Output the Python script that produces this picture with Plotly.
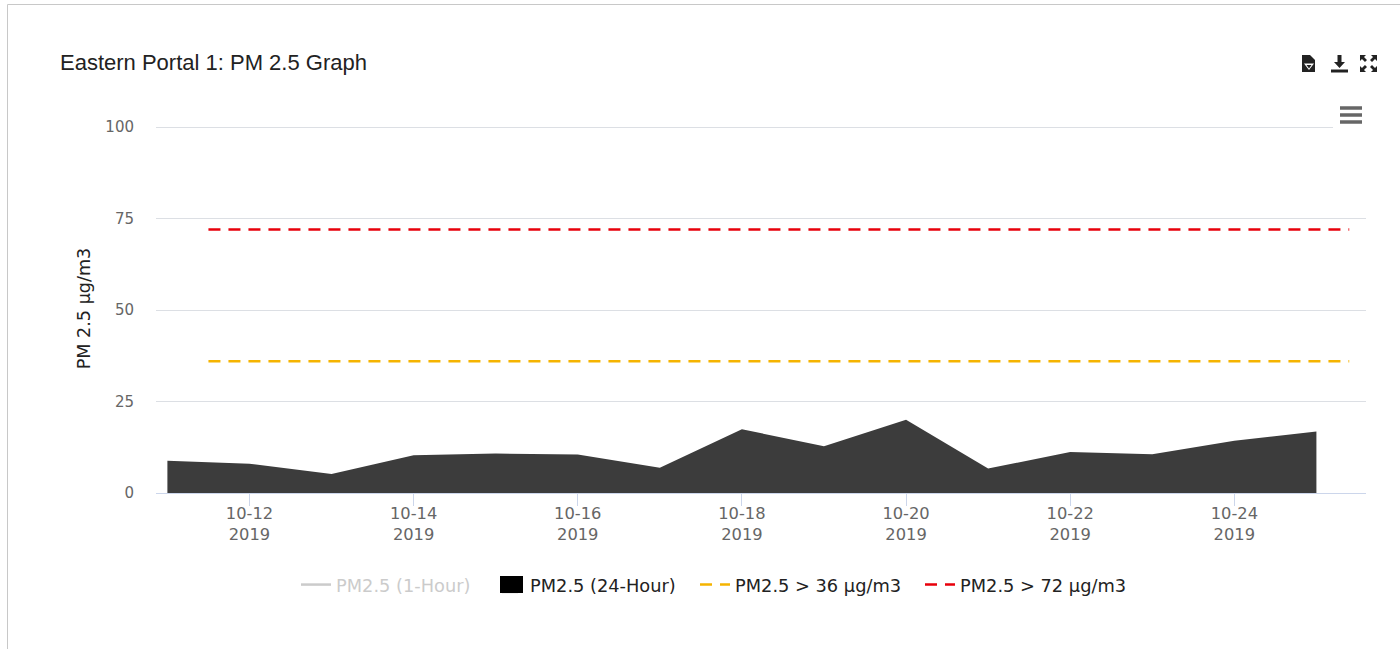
import plotly.graph_objects as go

dates = ["2019-10-%02d" % d for d in range(11, 26)]
pm24 = [8.8, 8.0, 5.2, 10.3, 10.8, 10.5, 6.9, 17.4, 12.8, 20.0, 6.7, 11.2, 10.6, 14.3, 16.8]
limit_dates = ["2019-10-11 12:00", "2019-10-25 09:36"]
limit36 = [36, 36]
limit72 = [72, 72]
tick_dates = ["2019-10-12", "2019-10-14", "2019-10-16", "2019-10-18", "2019-10-20", "2019-10-22", "2019-10-24"]
tick_text = ["10-12<br>2019", "10-14<br>2019", "10-16<br>2019", "10-18<br>2019", "10-20<br>2019", "10-22<br>2019", "10-24<br>2019"]
y_ticks = [0, 25, 50, 75, 100]

W, H = 1400, 649
L, R, T, B = 156, 1366, 124, 493
FONT = "DejaVu Sans"

def px(x): return (x - L) / (R - L)
def py(y): return (B - y) / (B - T)
def path(points):
    return "M" + " L".join(f"{px(x):.5f},{py(y):.5f}" for x, y in points) + " Z"

fig = go.Figure()
fig.add_trace(go.Scatter(x=dates[:1], y=[None], name="PM2.5 (1-Hour)", mode="lines", visible="legendonly",
                         line=dict(color="#999999", width=2.5), legend="legend"))
fig.add_trace(go.Scatter(x=dates, y=pm24, mode="lines", fill="tozeroy", showlegend=False,
                         line=dict(color="#3c3c3c", width=0), fillcolor="#3c3c3c"))
fig.add_trace(go.Scatter(x=dates[:1], y=[None], name="PM2.5 (24-Hour)", mode="markers", legend="legend2",
                         marker=dict(symbol="square", size=16, color="#000000", line=dict(color="#000000", width=1))))
fig.add_trace(go.Scatter(x=limit_dates, y=limit36, name="PM2.5 > 36 µg/m3", mode="lines", legend="legend3",
                         line=dict(color="#f5b400", width=2.6, dash="12px,8px")))
fig.add_trace(go.Scatter(x=limit_dates, y=limit72, name="PM2.5 > 72 µg/m3", mode="lines", legend="legend4",
                         line=dict(color="#e8000b", width=2.6, dash="12px,8px")))

def frame(points, fill="#222222"):
    return dict(type="path", xref="paper", yref="paper", path=path(points), fillcolor=fill, line=dict(width=0), layer="above")

shapes = [
    dict(type="line", xref="paper", yref="paper", x0=px(7.5), x1=px(7.5), y0=py(649), y1=py(4.5), line=dict(color="#c8c8c8", width=1)),
    dict(type="line", xref="paper", yref="paper", x0=px(7.5), x1=px(1400), y0=py(4.5), y1=py(4.5), line=dict(color="#c8c8c8", width=1)),
    dict(type="rect", xref="paper", yref="paper", x0=px(1333), x1=px(1367), y0=py(100), y1=py(130), fillcolor="white", line=dict(width=0), layer="above"),
    frame([(500, 576), (523, 576), (523, 593), (500, 593)], "#000000"),
]
for y0 in (108, 115, 122):
    shapes.append(dict(type="line", xref="paper", yref="paper", x0=px(1340), x1=px(1362), y0=py(y0), y1=py(y0),
                       line=dict(color="#666666", width=3.5), layer="above"))
# file-download icon
shapes.append(frame([(1302, 55), (1310, 55), (1315, 60), (1315, 72), (1302, 72)]))
shapes.append(frame([(1304, 63.5), (1314, 63.5), (1309, 70)], "#ffffff"))
shapes.append(frame([(1306.5, 65), (1311.5, 65), (1309, 68.5)]))
# download icon
shapes.append(frame([(1337.5, 55), (1341.5, 55), (1341.5, 62), (1345, 62), (1339.5, 68), (1334, 62), (1337.5, 62)]))
shapes.append(frame([(1331, 69.5), (1348, 69.5), (1348, 72.5), (1331, 72.5)]))
# fullscreen icon
for cx, cy, sx, sy in ((1360, 55, 1, 1), (1377, 55, -1, 1), (1360, 72, 1, -1), (1377, 72, -1, -1)):
    shapes.append(frame([(cx, cy), (cx + 6 * sx, cy), (cx + 4 * sx, cy + 2 * sy), (cx + 7 * sx, cy + 5 * sy),
                         (cx + 5 * sx, cy + 7 * sy), (cx + 2 * sx, cy + 4 * sy), (cx, cy + 6 * sy)]))

annotations = [
    dict(text="Eastern Portal 1: PM 2.5 Graph", xref="paper", yref="paper", x=px(58), y=py(62.5), xanchor="left", yanchor="middle",
         showarrow=False, font=dict(family="Liberation Sans", size=22, color="#222222")),
]

def legend_at(x, color="#222222"):
    return dict(orientation="h", xref="container", yref="container", x=(x - 40) / W, y=1 - 585 / H, xanchor="left", yanchor="middle",
                font=dict(family=FONT, size=17.8, color=color), itemwidth=30, bgcolor="rgba(0,0,0,0)")

fig.update_layout(
    width=W, height=H, autosize=False,
    margin=dict(l=L, r=W - R, t=T, b=H - B),
    paper_bgcolor="white", plot_bgcolor="white",
    shapes=shapes, annotations=annotations, hovermode=False,
    font=dict(family=FONT, size=15, color="#666666"),
    showlegend=True,
    legend=legend_at(336, "#999999"), legend2=legend_at(530), legend3=legend_at(735), legend4=legend_at(960),
    xaxis=dict(type="date", range=["2019-10-10 20:40", "2019-10-25 14:30"], tickvals=tick_dates, ticktext=tick_text,
               tickangle=0, ticks="outside", ticklen=12, tickcolor="#ccd6eb", tickwidth=1,
               showline=True, linecolor="#ccd6eb", linewidth=1, showgrid=False, zeroline=False, ticklabelstandoff=-7,
               tickfont=dict(family=FONT, size=16.3, color="#666666"), automargin=False),
    yaxis=dict(range=[0, 100.82], tickvals=y_ticks, showgrid=True, gridcolor="#dcdfe4", gridwidth=1.4, zeroline=False,
               ticks="", showline=False, tickfont=dict(family=FONT, size=15, color="#666666"), automargin=False,
               ticklabelstandoff=21,
               title=dict(text="PM 2.5 µg/m3", font=dict(family=FONT, size=17.6, color="#222222"), standoff=10)),
)
fig.write_html("out.html", config=dict(displayModeBar=False),
               post_script="document.body.style.margin='0';document.body.style.overflow='hidden';")
